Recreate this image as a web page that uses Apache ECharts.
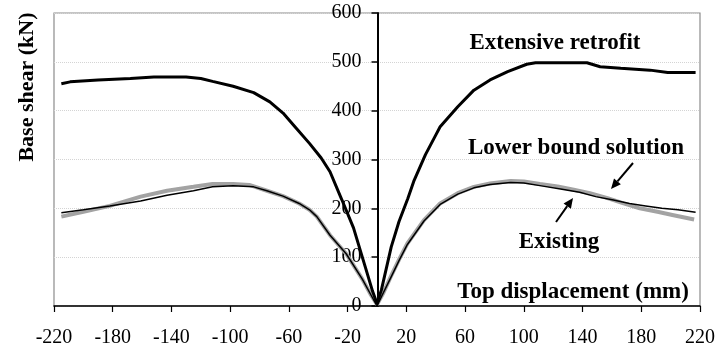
<!DOCTYPE html>
<html>
<head>
<meta charset="utf-8">
<script src="https://cdn.jsdelivr.net/npm/echarts@6/dist/echarts.min.js"></script>
<style>html,body{margin:0;padding:0;background:#fff}#c{width:718px;height:351px}</style>
</head>
<body>
<div id="c"></div>
<script>
// Tick labels of the displacement axis (mm)
var xTickLabels = [-220, -180, -140, -100, -60, -20, 20, 60, 100, 140, 180, 220];
var yTicks = [0, 100, 200, 300, 400, 500, 600];

// Extensive retrofit: [top displacement (mm), base shear (kN)]
var extensiveRetrofit = [
  [-215,455],[-209,459],[-190,463],[-168,466],[-152,469],[-130,469],[-120,466],[-112,460],
  [-98,450],[-84,437],[-73,418],[-64,395],[-55,364],[-46,333],[-38,303],[-32,275],[-24,218],
  [-16,160],[-8,80],[-3,30],[0,5],
  [3,33],[9.7,121],[15,173],[21,220],[25,255],[33,310],[40,350],[43,367],[55,408],[66,442],
  [77,463],[89,480],[102,495],[108,498],[143,498],[152,490],[166,487],[186,483],[198,478],[217,478]
];

// Existing building
var existing = [
  [-215,191],[-200,197],[-182,205],[-161,215],[-143,227],[-125,236],[-112,244],[-98,246],
  [-84,244],[-75,236],[-64,225],[-53,210],[-46,197],[-41,183],[-32,145],[-21,107],[-10,55],
  [-4,22],[0,0],
  [4,25],[9.4,58],[15,93],[20.7,126],[32,174],[43,208],[55,229],[66,242],[77,249],[91,253],
  [100,252],[112,246],[126,239],[138,233],[149,224],[161,217],[172,210],[183,205],[194,200],
  [205,197],[217,192]
];

// Lower bound solution
var lowerBound = [
  [-215,183],[-200,193],[-182,205],[-161,224],[-143,236],[-125,244],[-112,250],[-98,250],
  [-87,248],[-75,236],[-64,225],[-53,210],[-46,197],[-41,183],[-32,145],[-21,107],[-10,55],
  [-4,22],[0,3],
  [4,25],[9.4,60],[15,95],[20.7,128],[32,176],[43,210],[55,231],[66,244],[77,251],[91,256],
  [100,255],[111,250],[123,245],[134,238],[145,231],[157,221],[168,210],[179,200],[191,193],
  [202,186],[216,177]
];

var serif = '"Liberation Serif","Times New Roman",serif';
var chart = echarts.init(document.getElementById('c'), null, {renderer: 'canvas'});

var gridLeft = 54, gridRight = 17, chartW = 718;
var xMin = -220, xMax = 220;
// place the y axis at x = 0 of the data axis
var yAxisOffset = -((0 - xMin) / (xMax - xMin)) * (chartW - gridLeft - gridRight);

function arrow(tail, tip) {
  var dx = tip[0] - tail[0], dy = tip[1] - tail[1];
  var len = Math.sqrt(dx * dx + dy * dy);
  var ux = dx / len, uy = dy / len;
  var hl = 10, hw = 4.5;
  var bx = tip[0] - ux * hl, by = tip[1] - uy * hl;
  var px = -uy * hw, py = ux * hw;
  return [
    {type: 'line', z: 100, shape: {x1: tail[0], y1: tail[1], x2: bx, y2: by},
     style: {stroke: '#000', lineWidth: 2}},
    {type: 'polygon', z: 100, shape: {points: [[tip[0], tip[1]], [bx + px, by + py], [bx - px, by - py]]},
     style: {fill: '#000'}}
  ];
}

var annFont = 'bold 23px ' + serif;
var graphics = [
  {type: 'text', z: 100, x: 27, y: 87, rotation: Math.PI / 2,
   style: {text: 'Base shear (kN)', font: 'bold 22px ' + serif, fill: '#000', align: 'center', verticalAlign: 'middle'}},
  {type: 'text', z: 100, x: 555, y: 43,
   style: {text: 'Extensive retrofit', font: annFont, fill: '#000', align: 'center', verticalAlign: 'middle'}},
  {type: 'text', z: 100, x: 576, y: 148,
   style: {text: 'Lower bound solution', font: annFont, fill: '#000', align: 'center', verticalAlign: 'middle'}},
  {type: 'text', z: 100, x: 559, y: 242,
   style: {text: 'Existing', font: annFont, fill: '#000', align: 'center', verticalAlign: 'middle'}},
  {type: 'text', z: 100, x: 573, y: 292,
   style: {text: 'Top displacement (mm)', font: annFont, fill: '#000', align: 'center', verticalAlign: 'middle'}}
].concat(arrow([633, 163], [611, 189])).concat(arrow([556, 222], [573, 198]));

var option = {
  animation: false,
  backgroundColor: '#fff',
  grid: {left: gridLeft, right: gridRight, top: 13, bottom: 45, show: true, borderColor: '#8c8c8c', borderWidth: 1.2, containLabel: false},
  xAxis: [
    {type: 'value', min: xMin, max: xMax, show: false},
    {type: 'value', min: 0, max: 440, interval: 40, position: 'bottom',
     axisLine: {show: true, onZero: false, lineStyle: {color: '#000', width: 1.5}},
     axisTick: {show: true, inside: false, length: 6, lineStyle: {color: '#000', width: 1.2}},
     axisLabel: {show: true, margin: 22, fontFamily: serif, fontSize: 20, color: '#000', interval: 0,
       showMinLabel: true, showMaxLabel: true,
       formatter: function (v) { var i = Math.round(v / 40); return xTickLabels[i] !== undefined ? String(xTickLabels[i]) : ''; }},
     splitLine: {show: false}}
  ],
  yAxis: {
    type: 'value', min: yTicks[0], max: yTicks[yTicks.length - 1], interval: 100,
    position: 'left', offset: yAxisOffset,
    axisLine: {show: true, onZero: false, lineStyle: {color: '#000', width: 2}},
    axisTick: {show: true, inside: false, length: 6, lineStyle: {color: '#000', width: 1.5}},
    axisLabel: {show: true, margin: 16, fontFamily: serif, fontSize: 20, color: '#000'},
    splitLine: {show: true, lineStyle: {color: '#d4d4d4', type: 'dotted', width: 1}}
  },
  series: [
    {name: 'Existing', type: 'line', xAxisIndex: 0, data: existing, showSymbol: false, symbol: 'none',
     lineStyle: {color: '#000', width: 1.5}, z: 3},
    {name: 'Lower bound solution', type: 'line', xAxisIndex: 0, data: lowerBound, showSymbol: false, symbol: 'none',
     lineStyle: {color: '#a3a3a3', width: 4}, z: 2},
    {name: 'Extensive retrofit', type: 'line', xAxisIndex: 0, data: extensiveRetrofit, showSymbol: false, symbol: 'none',
     lineStyle: {color: '#000', width: 3}, z: 4}
  ],
  graphic: graphics
};
chart.setOption(option);
</script>
</body>
</html>
